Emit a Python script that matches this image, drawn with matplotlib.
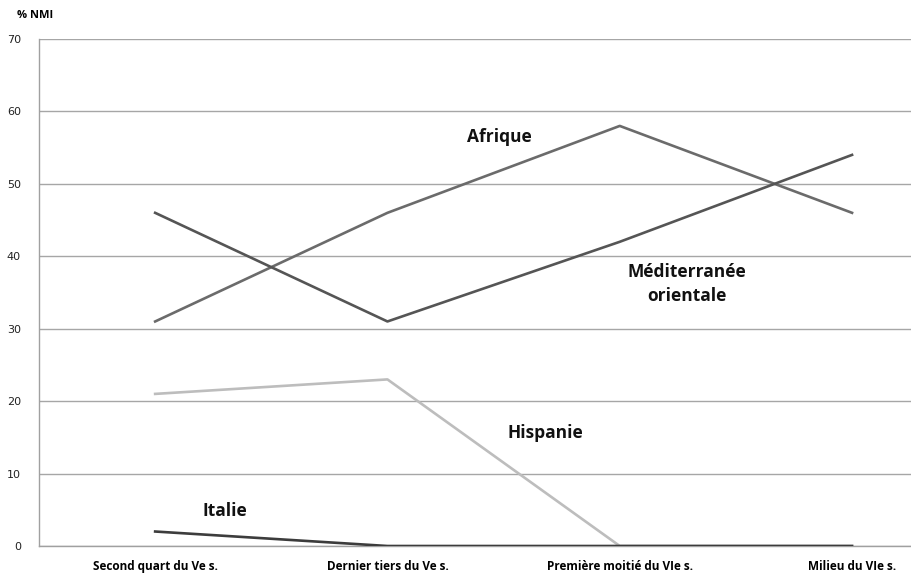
import matplotlib.pyplot as plt

categories = ["Second quart du Ve s.", "Dernier tiers du Ve s.",
              "Première moitié du VIe s.", "Milieu du VIe s."]
hispanie = [21, 23, 0, 0]
afrique = [31, 46, 58, 46]
mediterranee = [46, 31, 42, 54]
italie = [2, 0, 0, 0]
yticks = [0, 10, 20, 30, 40, 50, 60, 70]

fig = plt.figure(figsize=(9.11, 5.73), dpi=100)
ax = fig.add_axes([39/911, 1-546/573, 1-39/911, (546-39)/573])

x = range(len(categories))
ax.plot(x, hispanie, color="#bdbdbd", lw=1.9, zorder=3)
ax.plot(x, afrique, color="#6b6b6b", lw=1.9, zorder=4)
ax.plot(x, mediterranee, color="#555555", lw=1.9, zorder=4)
ax.plot(x, italie, color="#3c3c3c", lw=1.9, zorder=5)

ax.set_ylim(0, 70)
ax.set_xlim(-0.5, -0.5 + (911-39)/232.3)
ax.set_yticks(yticks)
ax.set_xticks(list(x))
ax.set_xticklabels(categories, fontsize=8.5, fontweight="bold")
for lab in ax.get_xticklabels():
    lab.set_family(["Liberation Sans Narrow", "Open Sans", "DejaVu Sans"])
ax.tick_params(axis="y", labelsize=8, length=0, pad=13, colors="#222222")
ax.tick_params(axis="x", length=0, pad=10, colors="#000000")
ax.grid(axis="y", color="#a6a6a6", lw=1)
ax.set_axisbelow(True)
for s in ["top", "right"]:
    ax.spines[s].set_visible(False)
ax.spines["left"].set_color("#a0a0a0")
ax.spines["bottom"].set_color("#a0a0a0")
ax.spines["left"].set_linewidth(1)
ax.spines["bottom"].set_linewidth(1)

lab_kw = dict(fontsize=12.5, fontweight="bold", family=["Open Sans", "DejaVu Sans"],
              ha="center", va="center", color="#111111")
ax.text(1.48, 56.5, "Afrique", **lab_kw)
ax.text(2.29, 36.2, "Méditerranée\norientale", linespacing=1.45, **lab_kw)
ax.text(1.68, 15.6, "Hispanie", **lab_kw)
ax.text(0.3, 4.8, "Italie", **lab_kw)

fig.text(35/911, 1-15/573, "% NMI", fontsize=8, fontweight="bold",
         family=["Open Sans", "DejaVu Sans"], ha="center", va="center")

fig.savefig("out.png", dpi=100)
